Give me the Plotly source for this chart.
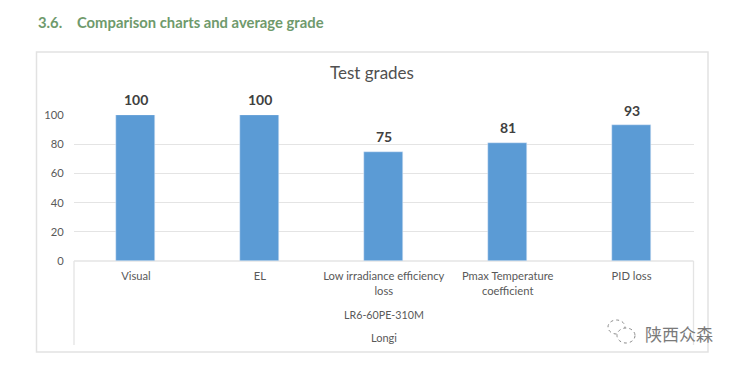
import plotly.graph_objects as go

categories = ["Visual", "EL", "Low irradiance efficiency<br>loss", "Pmax Temperature<br>coefficient", "PID loss"]
grades = [100, 100, 75, 81, 93]
y_ticks = [0, 20, 40, 60, 80, 100]
model = "LR6-60PE-310M"
maker = "Longi"
heading = "3.6.\u2002\u2002Comparison charts and average grade"
chart_title = "Test grades"
watermark = "陕西众森"

W, H = 737, 365
FONT = "Lato, Carlito, Open Sans, sans-serif"
GREY = "#595959"
LINE = "#e4e4e4"

def px(x):
    return x / W

def py(y):
    return 1 - y / H

def line(x0, y0, x1, y1, color=LINE, width=1.3):
    return dict(type="line", xref="paper", yref="paper", x0=px(x0), x1=px(x1), y0=py(y0), y1=py(y1),
                line=dict(color=color, width=width), layer="below")

def label(x, y, text, size, color=GREY, anchor="center", **kw):
    return dict(xref="paper", yref="paper", x=px(x), y=py(y), text=text, showarrow=False, xanchor=anchor,
                yanchor="middle", font=dict(size=size, color=color, family=kw.pop("family", FONT), weight=kw.pop("weight", "normal")), **kw)

fig = go.Figure(go.Bar(
    x=list(range(len(grades))), y=grades, width=0.315, marker=dict(color="#5b9bd5"),
    cliponaxis=False,
))

shapes = [
    dict(type="rect", xref="paper", yref="paper", x0=px(36.5), x1=px(708), y0=py(52), y1=py(352),
         line=dict(color="#e2e2e2", width=1.5), layer="below"),
    line(74, 261, 74, 345),
    line(693.5, 261, 693.5, 345),
    line(74, 261, 693.5, 261),
    dict(type="circle", xref="paper", yref="paper", x0=px(608), x1=px(625), y0=py(334), y1=py(320),
         line=dict(color="#8a8a8a", width=1, dash="dot")),
    dict(type="circle", xref="paper", yref="paper", x0=px(617), x1=px(635), y0=py(343), y1=py(328),
         line=dict(color="#8a8a8a", width=1, dash="dot"), fillcolor="white"),
]

annotations = [
    label(36, 21.5, heading, 14.8, color="#6f9a6c", anchor="left", weight="bold"),
    label(372, 73, chart_title, 17, color="#505050"),
    label(384, 314, model, 10.7),
    label(384, 337, maker, 11),
    label(679, 333, watermark, 17, color="#7a7a7a", family="Noto Sans CJK SC"),
]
for i, v in enumerate(grades):
    annotations.append(dict(x=i, y=v, xref="x", yref="y", yshift=15, text=str(v), showarrow=False,
                            font=dict(size=14, color="#404040", family=FONT, weight="bold")))

fig.update_layout(
    width=W, height=H, autosize=False, margin=dict(l=0, r=0, t=0, b=0, autoexpand=False),
    paper_bgcolor="white", plot_bgcolor="white",
    showlegend=False, shapes=shapes, annotations=annotations, bargap=0,
    font=dict(family=FONT, color=GREY, size=11.2),
    xaxis=dict(domain=[px(74), px(693.5)], range=[-0.5, 4.5], tickvals=list(range(len(categories))),
               ticktext=categories, showgrid=False, zeroline=False, ticks="outside", ticklen=5,
               tickcolor="rgba(0,0,0,0)", tickfont=dict(size=11.2, color=GREY), showline=False, automargin=False),
    yaxis=dict(domain=[py(261), py(115)], range=[0, 100], tickvals=y_ticks, gridcolor=LINE, gridwidth=1.3,
               zeroline=False, ticks="outside", ticklen=7, tickcolor="rgba(0,0,0,0)",
               tickfont=dict(size=11.2, color=GREY), showline=False, automargin=False),
)
fig.write_html("out.html", config=dict(displayModeBar=False),
               post_script="document.body.style.margin='0';document.body.style.overflow='hidden';")
